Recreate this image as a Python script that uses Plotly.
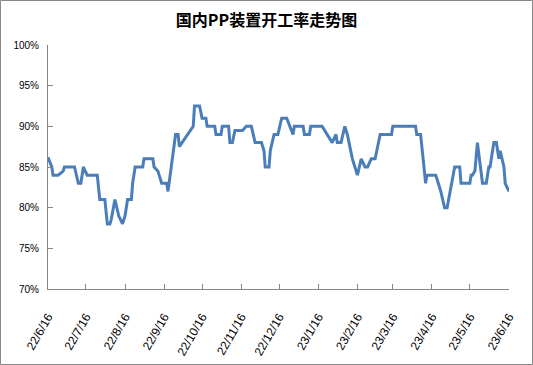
import plotly.graph_objects as go

dates = [
    "2022-06-16", "2022-06-19", "2022-06-20", "2022-06-24", "2022-06-28", "2022-06-29",
    "2022-07-07", "2022-07-10", "2022-07-12", "2022-07-14", "2022-07-17", "2022-07-25",
    "2022-07-27", "2022-07-31", "2022-08-02", "2022-08-04", "2022-08-05", "2022-08-08",
    "2022-08-11", "2022-08-14", "2022-08-16", "2022-08-18", "2022-08-21", "2022-08-22",
    "2022-08-24", "2022-08-30", "2022-08-31", "2022-09-07", "2022-09-08", "2022-09-11",
    "2022-09-12", "2022-09-14", "2022-09-18", "2022-09-19", "2022-09-25", "2022-09-27",
    "2022-09-28", "2022-10-09", "2022-10-10", "2022-10-14", "2022-10-16", "2022-10-19",
    "2022-10-20", "2022-10-26", "2022-10-27", "2022-10-31", "2022-11-01", "2022-11-06",
    "2022-11-07", "2022-11-09", "2022-11-11", "2022-11-17", "2022-11-20", "2022-11-24",
    "2022-11-27", "2022-12-02", "2022-12-04", "2022-12-05", "2022-12-08", "2022-12-09",
    "2022-12-12", "2022-12-15", "2022-12-18", "2022-12-22", "2022-12-27", "2022-12-28",
    "2023-01-04", "2023-01-05", "2023-01-09", "2023-01-10", "2023-01-19", "2023-01-27",
    "2023-01-30", "2023-01-31", "2023-02-03", "2023-02-06", "2023-02-08", "2023-02-12",
    "2023-02-14", "2023-02-16", "2023-02-19", "2023-02-22", "2023-02-24", "2023-02-27",
    "2023-03-02", "2023-03-06", "2023-03-15", "2023-03-16", "2023-04-03", "2023-04-04",
    "2023-04-07", "2023-04-11", "2023-04-12", "2023-04-19", "2023-04-21", "2023-04-23",
    "2023-04-26", "2023-04-28", "2023-05-04", "2023-05-08", "2023-05-09", "2023-05-16",
    "2023-05-17", "2023-05-18", "2023-05-20", "2023-05-22", "2023-05-26", "2023-05-29",
    "2023-05-31", "2023-06-01", "2023-06-04", "2023-06-06", "2023-06-08", "2023-06-09",
    "2023-06-12", "2023-06-13", "2023-06-16",
]
rates = [
    86.2, 85, 84, 84, 84.5, 85,
    85, 83, 83, 85, 84, 84,
    81, 81, 78, 78, 78.5, 81,
    79, 78, 79, 81, 81, 83,
    85, 85, 86, 86, 85, 84.5,
    84, 83, 83, 82, 89, 89,
    87.5, 90, 92.5, 92.5, 91, 91,
    90, 90, 89, 89, 90, 90,
    88, 88, 89.5, 89.5, 90, 90,
    88, 88, 87, 85, 85, 87,
    89, 89, 91, 91, 89, 90,
    90, 89, 89, 90, 90, 88,
    89, 88, 88, 90, 89, 86,
    85, 84, 86, 85, 85, 86,
    86, 89, 89, 90, 90, 89,
    89, 83, 84, 84, 83, 82,
    80, 80, 85, 85, 83, 83,
    84, 84, 84.5, 88, 83, 83,
    85, 85, 88, 88, 86, 87,
    85, 83, 82,
]

tick_dates = [
    "2022-06-16", "2022-07-16", "2022-08-16", "2022-09-16", "2022-10-16", "2022-11-16",
    "2022-12-16", "2023-01-16", "2023-02-16", "2023-03-16", "2023-04-16", "2023-05-16",
    "2023-06-16",
]
tick_labels = [
    "22/6/16", "22/7/16", "22/8/16", "22/9/16", "22/10/16", "22/11/16", "22/12/16",
    "23/1/16", "23/2/16", "23/3/16", "23/4/16", "23/5/16", "23/6/16",
]
y_ticks = [70, 75, 80, 85, 90, 95, 100]
y_labels = ["70%", "75%", "80%", "85%", "90%", "95%", "100%"]
title = "国内PP装置开工率走势图"

fig = go.Figure()
fig.add_trace(go.Scatter(
    x=dates, y=rates, mode="lines",
    line=dict(color="#4a7ebb", width=3),
    hoverinfo="x+y",
))

L, R, T, B = 48, 24, 45, 76
W, H = 533, 365
pw, ph = W - L - R, H - T - B

fig.update_layout(
    width=W, height=H,
    margin=dict(l=L, r=R, t=T, b=B, autoexpand=False),
    paper_bgcolor="white", plot_bgcolor="white",
    showlegend=False,
    font=dict(family="Liberation Sans, Arial, sans-serif", size=10, color="black"),
    title=dict(
        text="<b>" + title + "</b>",
        x=0.5, xref="container", xanchor="center",
        y=1 - 20 / H, yref="container", yanchor="middle",
        font=dict(family="Noto Sans CJK SC", size=16, color="black"),
    ),
    xaxis=dict(
        type="date",
        range=[tick_dates[0], tick_dates[-1]],
        tickvals=tick_dates, ticktext=tick_labels,
        tickangle=-60,
        ticks="inside", ticklen=5, tickcolor="#868686",
        showline=True, linecolor="#868686", linewidth=1,
        showgrid=False, zeroline=False,
        ticklabelstandoff=15,
        tickfont=dict(size=12),
    ),
    yaxis=dict(
        range=[70, 100],
        tickvals=y_ticks, ticktext=y_labels,
        ticks="inside", ticklen=5, tickcolor="#868686",
        showline=True, linecolor="#868686", linewidth=1,
        showgrid=False, zeroline=False,
        ticklabelstandoff=6,
        tickfont=dict(size=10),
    ),
    shapes=[dict(
        type="rect", xref="paper", yref="paper",
        x0=(0.5 - L) / pw, x1=(W - 0.5 - L) / pw,
        y0=(ph - (H - 0.5 - T)) / ph, y1=(ph - (0.5 - T)) / ph,
        line=dict(color="#888888", width=1), layer="below",
    )],
)

fig.write_html(
    "out.html",
    config={"displayModeBar": False},
    post_script="document.body.style.margin='0';document.body.style.overflow='hidden';",
)
